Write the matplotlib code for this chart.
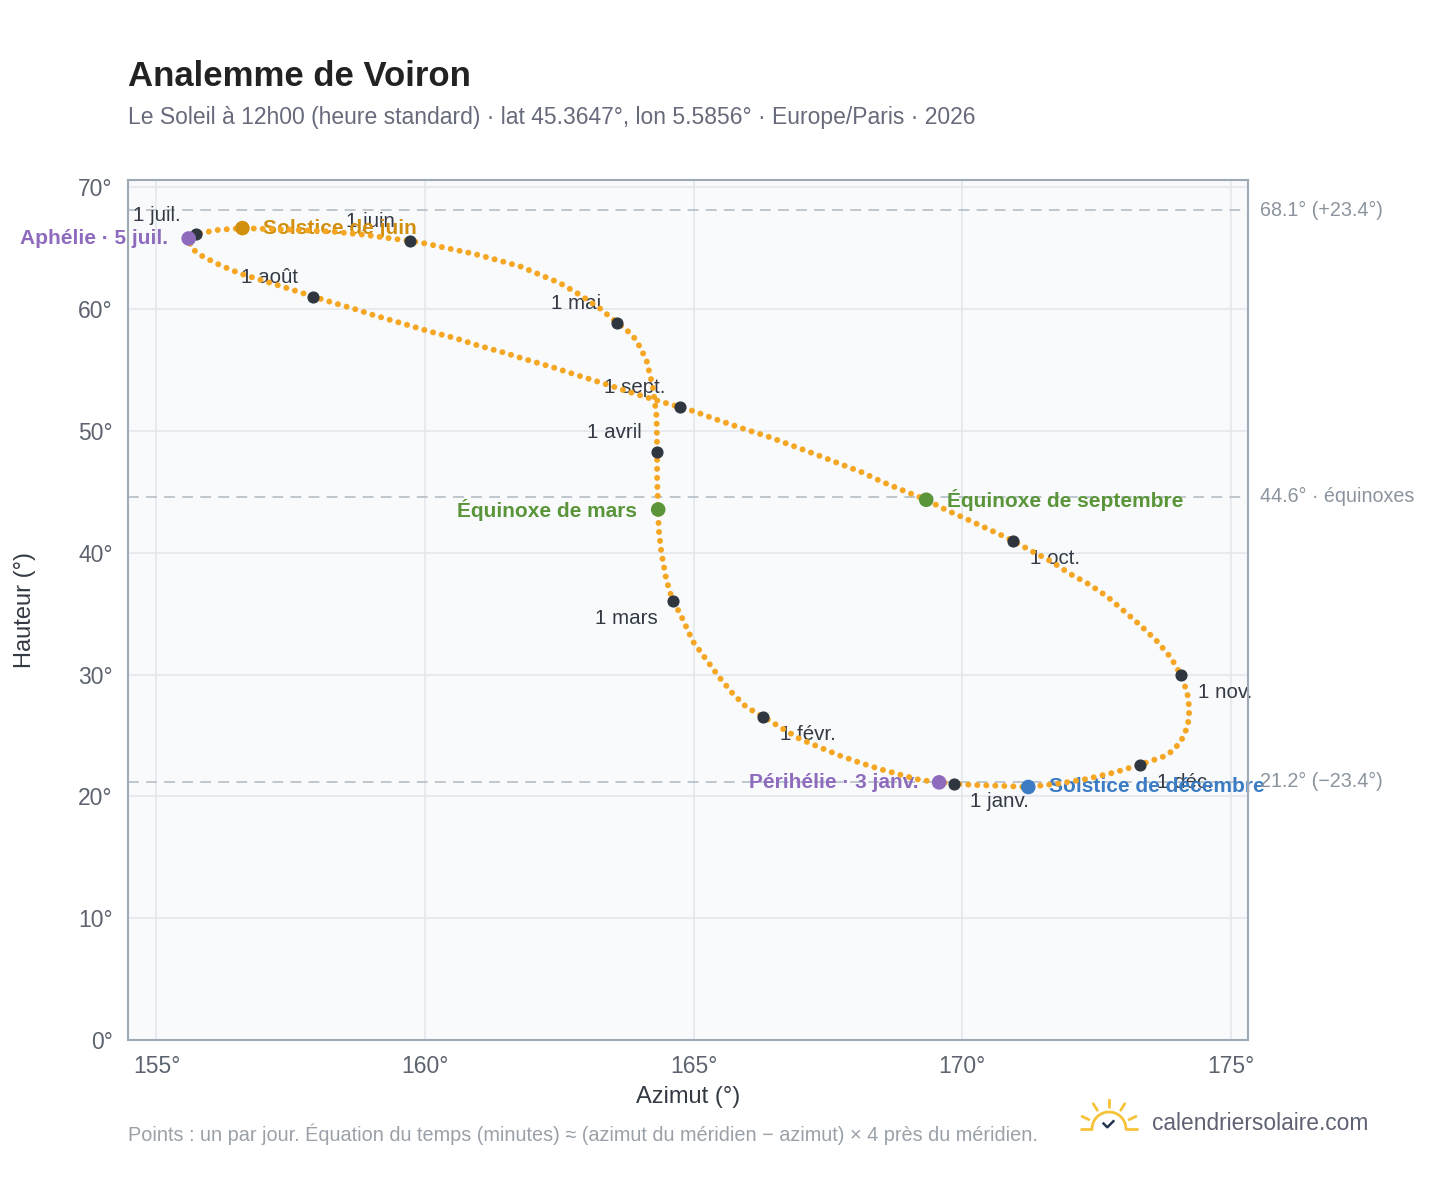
import numpy as np
import matplotlib
matplotlib.use("Agg")
import matplotlib.pyplot as plt

plt.rcParams['font.family'] = ['Liberation Sans', 'DejaVu Sans']

# Daily sun positions at 12h00 (azimut, hauteur in degrees)
path_az = [169.84, 169.57, 169.21, 168.84, 168.46, 168.09, 167.72, 167.34, 166.97, 166.63,
           166.30, 165.98, 165.73, 165.48, 165.24, 164.99, 164.74, 164.61, 164.49, 164.40,
           164.35, 164.34, 164.32, 164.32, 164.31, 164.24, 164.12, 163.93, 163.75, 163.57,
           163.25, 162.88, 162.51, 162.14, 161.77, 161.33, 160.90, 160.40, 160.03, 159.72,
           159.35, 158.91, 158.29, 157.67, 157.05, 156.60, 156.12, 155.81, 155.73, 155.60,
           155.65, 155.87, 156.18, 156.55, 157.05, 157.55, 157.92, 158.29, 158.66, 159.04,
           159.47, 160.09, 160.56, 160.99, 161.46, 161.92, 162.39, 162.85, 163.31, 163.78,
           164.24, 164.75, 164.99, 165.45, 165.92, 166.39, 166.82, 167.27, 167.70, 168.12,
           168.52, 168.94, 169.33, 169.71, 170.06, 170.42, 170.77, 170.95, 171.29, 171.67,
           171.99, 172.38, 172.70, 173.02, 173.34, 173.63, 173.89, 174.07, 174.19, 174.23,
           174.20, 174.06, 173.82, 173.31, 172.83, 172.31, 171.80, 171.23, 170.71, 170.26,
           169.90]
path_alt = [21.05, 21.16, 21.35, 21.79, 22.25, 22.77, 23.35, 24.04, 24.73, 25.63,
            26.52, 27.34, 28.43, 29.76, 31.20, 32.70, 35.07, 36.03, 37.81, 40.00,
            41.92, 43.55, 46.03, 48.30, 51.18, 53.64, 55.84, 57.48, 58.30, 58.90,
            60.08, 61.18, 62.14, 62.82, 63.51, 64.05, 64.55, 65.01, 65.37, 65.60,
            65.81, 66.08, 66.36, 66.49, 66.58, 66.65, 66.49, 66.22, 66.14, 65.80,
            64.99, 64.30, 63.62, 62.93, 62.25, 61.56, 61.03, 60.52, 60.05, 59.51,
            58.96, 58.16, 57.62, 57.01, 56.44, 55.81, 55.21, 54.55, 53.92, 53.23,
            52.60, 51.95, 51.64, 50.90, 50.19, 49.53, 48.82, 48.08, 47.34, 46.63,
            45.80, 45.04, 44.35, 43.49, 42.81, 42.07, 41.36, 40.97, 40.14, 39.26,
            38.31, 37.36, 36.40, 35.18, 33.95, 32.72, 31.36, 29.97, 28.50, 27.14,
            25.78, 24.41, 23.38, 22.60, 21.96, 21.42, 21.06, 20.77, 20.87, 20.93,
            21.02]

# First day of each month
month_labels = ["1 janv.", "1 févr.", "1 mars", "1 avril", "1 mai", "1 juin",
                "1 juil.", "1 août", "1 sept.", "1 oct.", "1 nov.", "1 déc."]
month_az = [169.84, 166.30, 164.61, 164.32, 163.57, 159.72,
            155.73, 157.92, 164.75, 170.95, 174.07, 173.31]
month_alt = [21.05, 26.52, 36.03, 48.30, 58.90, 65.60,
             66.14, 61.03, 51.95, 40.97, 29.97, 22.60]
# label side: first letter r/l = text right/left of the dot, second b/a = below/above
month_side = ["rb", "rb", "lb", "la", "la", "la", "la", "la", "la", "rb", "rb", "rb"]

# Remarkable days
event_labels = ["Aphélie · 5 juil.", "Solstice de juin", "Équinoxe de mars",
                "Équinoxe de septembre", "Périhélie · 3 janv.", "Solstice de décembre"]
event_az = [155.60, 156.60, 164.34, 169.33, 169.57, 171.23]
event_alt = [65.80, 66.65, 43.55, 44.35, 21.15, 20.77]
event_colors = ["#8e6bbd", "#d18f0e", "#5a9539", "#5a9539", "#8e6bbd", "#3b7cc4"]
event_side = ["l", "r", "l", "r", "l", "r"]

# Noon altitude references
ref_alt = [68.1, 44.6, 21.2]
ref_labels = ["68.1° (+23.4°)", "44.6° · équinoxes", "21.2° (−23.4°)"]

W, H = 1448, 1188
fig = plt.figure(figsize=(W / 100, H / 100), dpi=100)
fig.patch.set_facecolor("white")

ax = fig.add_axes([128 / W, 1 - 1040 / H, 1120 / W, 860 / H])
ax.set_facecolor("#f8fafc")
ax.set_xlim(154.47, 175.32)
ax.set_ylim(0, 70.6)
ax.set_xticks(range(155, 176, 5))
ax.set_xticklabels([f"{v}°" for v in range(155, 176, 5)])
ax.set_yticks(range(0, 71, 10))
ax.set_yticklabels([f"{v}°" for v in range(0, 71, 10)])
ax.tick_params(length=0, pad=11, labelsize=16.5, labelcolor="#5d6470")
ax.grid(True, color="#e4e8ee", lw=1.2)
ax.set_axisbelow(True)
for s in ax.spines.values():
    s.set_color("#9ea9b4")
    s.set_linewidth(1.5)

# reference lines
for y, lab in zip(ref_alt, ref_labels):
    ax.axhline(y, color="#b9c2cb", lw=1.3, dashes=(6, 4), zorder=1)
    ax.annotate(lab, xy=(1, y), xycoords=("axes fraction", "data"),
                xytext=(9, 0), textcoords="offset points", ha="left", va="center",
                fontsize=14.2, color="#8b949e", annotation_clip=False)

# daily points
ax.plot(path_az, path_alt, color="#f5a623", lw=4.3, linestyle=(0, (0.01, 1.5)),
        dash_capstyle="round", zorder=3)

# months
ax.scatter(month_az, month_alt, s=60, color="#2f3640", zorder=4)
for lab, x, y, side in zip(month_labels, month_az, month_alt, month_side):
    if side[0] == "r":
        dx, ha = 12, "left"
    else:
        dx, ha = -11, "right"
    if side[1] == "b":
        dy, va = -6, "top"
    else:
        dy, va = 7, "bottom"
    ax.annotate(lab, xy=(x, y), xytext=(dx, dy), textcoords="offset points",
                ha=ha, va=va, fontsize=14.8, color="#343a44", zorder=2)

# events
ax.scatter(event_az, event_alt, s=90, color=event_colors, zorder=5)
for lab, x, y, c, side in zip(event_labels, event_az, event_alt, event_colors, event_side):
    dx, ha = (15, "left") if side == "r" else (-15, "right")
    ax.annotate(lab, xy=(x, y), xytext=(dx, 0), textcoords="offset points",
                ha=ha, va="center", fontsize=15, fontweight="bold", color=c,
                zorder=2, annotation_clip=False)

# titles and labels
fig.text(128 / W, 1 - 86 / H, "Analemme de Voiron", fontsize=25, fontweight="bold",
         color="#222222", va="baseline")
fig.text(128 / W, 1 - 124 / H,
         "Le Soleil à 12h00 (heure standard) · lat 45.3647°, lon 5.5856° · Europe/Paris · 2026",
         fontsize=16.5, color="#666a7a", va="baseline")
fig.text(688 / W, 1 - 1097 / H, "Azimut (°)", fontsize=17, color="#333a44",
         ha="center", va="center")
fig.text(25 / W, 1 - 610 / H, "Hauteur (°)", fontsize=17, color="#333a44",
         ha="center", va="center", rotation=90)
fig.text(128 / W, 1 - 1134 / H,
         "Points : un par jour. Équation du temps (minutes) ≈ (azimut du méridien − azimut) × 4 près du méridien.",
         fontsize=14.3, color="#9aa1a9", va="center")
fig.text(1152 / W, 1 - 1124 / H, "calendriersolaire.com", fontsize=16.4,
         color="#5f6273", va="center")

# sun logo
lax = fig.add_axes([(1109 - 30) / W, 1 - (1129 + 5) / H, 60 / W, 35 / H])
lax.set_xlim(-1.765, 1.765)
lax.set_ylim(-0.294, 1.765)
lax.axis("off")
yellow = "#f6c238"
t = np.linspace(0, np.pi, 60)
lax.plot(np.cos(t), np.sin(t), color=yellow, lw=2)
lax.plot([-1.7, -1.0], [0, 0], color=yellow, lw=2, solid_capstyle="butt")
lax.plot([1.0, 1.7], [0, 0], color=yellow, lw=2, solid_capstyle="butt")
for a in [25, 58, 90, 122, 155]:
    r = np.radians(a)
    lax.plot([1.3 * np.cos(r), 1.75 * np.cos(r)], [1.3 * np.sin(r), 1.75 * np.sin(r)],
             color=yellow, lw=2, solid_capstyle="round")
lax.plot([-0.32, -0.1, 0.26], [0.32, 0.1, 0.46], color="#24364f", lw=1.8)

fig.savefig("out.png", dpi=100)
